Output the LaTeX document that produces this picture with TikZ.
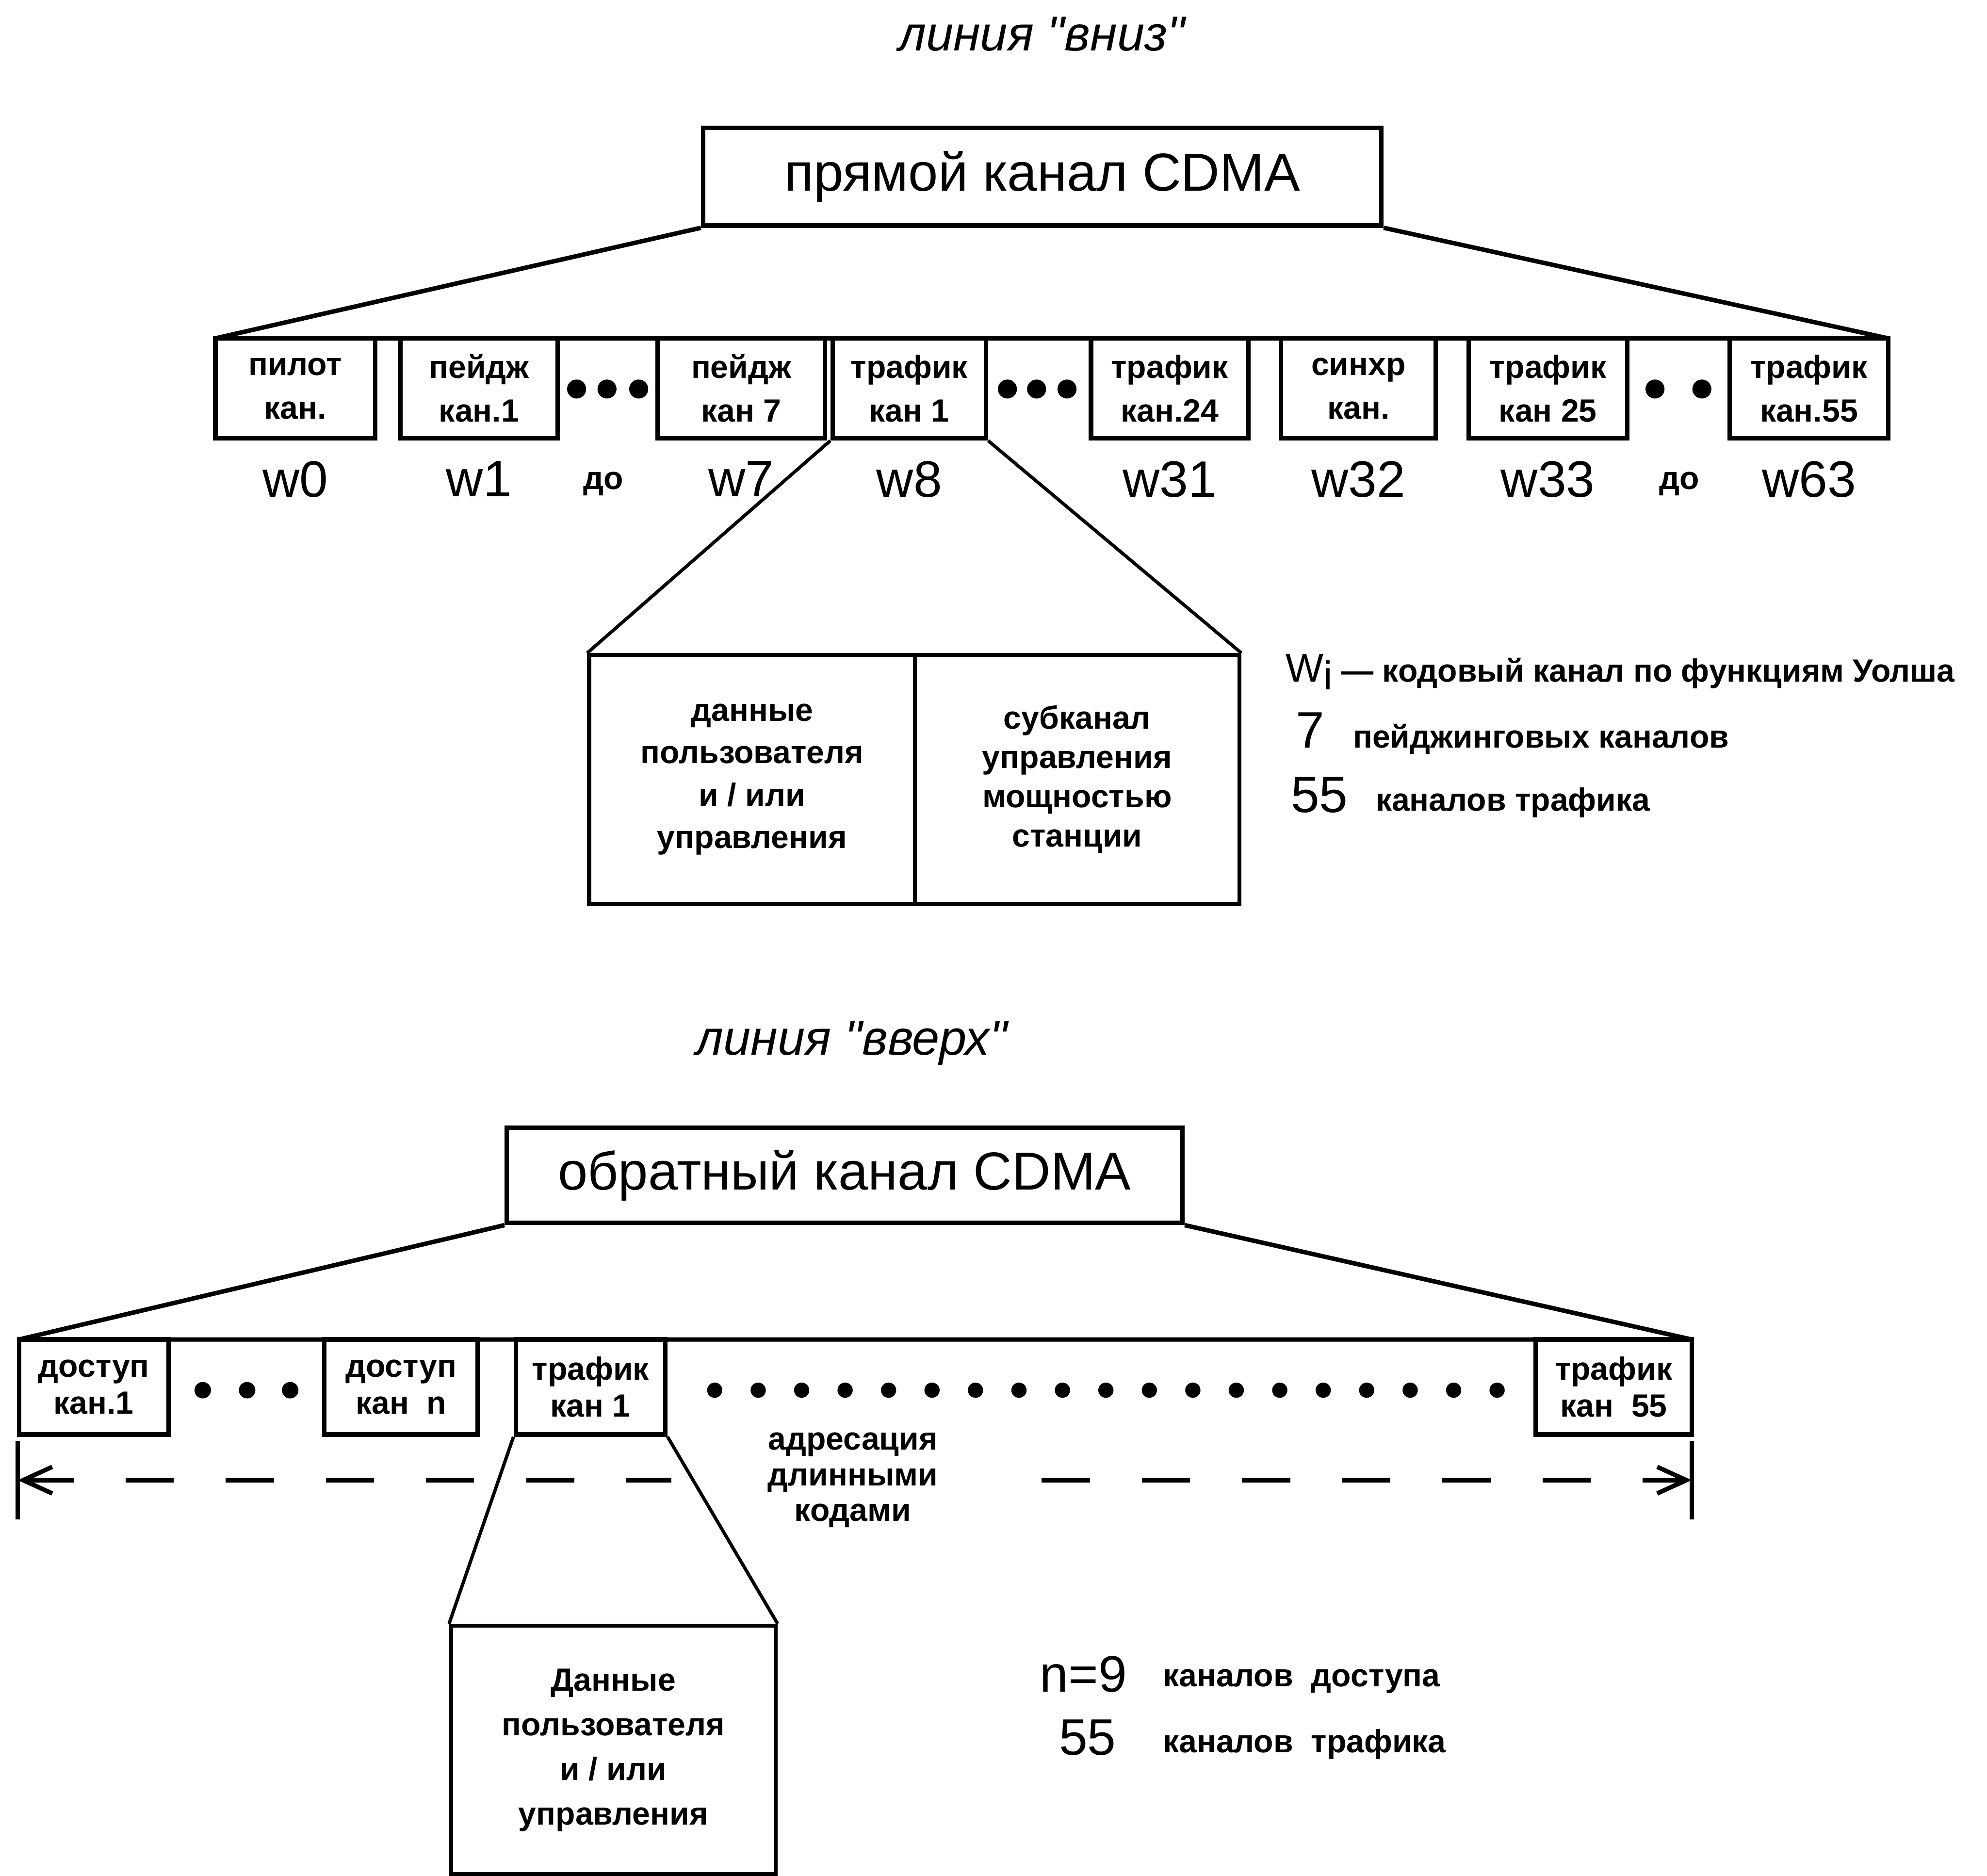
\documentclass[tikz,border=0pt]{standalone}
\usepackage{fontspec}
\setmainfont{Liberation Sans}
\usetikzlibrary{arrows.meta, positioning}

\begin{document}
\begin{tikzpicture}[x=0.01cm, y=-0.01cm, font=\bfseries\fontsize{7.2}{9.8}\selectfont,
  ttl/.style={font=\itshape\fontsize{11}{13}\selectfont\addfontfeature{Ligatures=TeXOff}},
  head/.style={draw, line width=1pt, inner sep=0pt, minimum height=0.77cm, font=\mdseries\fontsize{12}{14}\selectfont},
  ch/.style={draw, line width=1pt, inner sep=0pt, minimum height=0.79cm, align=center, minimum width=#1},
  chb/.style={ch=#1, minimum height=0.75cm, font=\bfseries\fontsize{7.2}{8.3}\selectfont},
  sub/.style={draw, line width=0.9pt, inner sep=0pt, minimum height=1.96cm, align=center, minimum width=#1},
  wl/.style={inner sep=1pt, font=\mdseries\fontsize{11.5}{13}\selectfont},
  big/.style={anchor=base west, inner sep=0pt, font=\mdseries\fontsize{11.5}{13}\selectfont},
  lg/.style={anchor=base west, inner sep=0pt},
  ln/.style={line width=1pt, line join=round},
  thn/.style={line width=0.75pt},
  adr/.style={line width=1pt, dash pattern=on 3.8mm off 4.1mm},
  barb/.tip={Straight Barb[length=2.3mm, width=2.1mm]}]
\useasboundingbox (0,0) rectangle (1568,1480);

\node[ttl] (tdown) at (822,27) {линия "вниз"};
\node[head, minimum width=5.35cm] (fwd) at (822.5,139.5) {прямой канал CDMA};
\coordinate (fl) at (170,267);
\coordinate (fr) at (1490,267);
\draw[ln] (fwd.south west) -- (fl) -- (fr) -- (fwd.south east);

\node[ch=1.26cm] (p0) at (233,306.5) {пилот\\кан.};
\node[ch=1.24cm] (p1) at (378,306.5) {пейдж\\кан.1};
\node[ch=1.32cm] (p7) at (585,306.5) {пейдж\\кан 7};
\node[ch=1.21cm] (t1) at (717.5,306.5) {трафик\\кан 1};
\node[ch=1.24cm] (t24) at (923,306.5) {трафик\\кан.24};
\node[ch=1.22cm] (sy) at (1072,306.5) {синхр\\кан.};
\node[ch=1.25cm] (t25) at (1221.5,306.5) {трафик\\кан 25};
\node[ch=1.25cm] (t55) at (1427.5,306.5) {трафик\\кан.55};
\foreach \x in {455,479,504,795,818,842,1306,1343}
  \fill (\x,307) circle (0.75mm);

\node[wl, below=0.12cm of p0] (w0) {w0};
\node[wl, below=0.12cm of p1] (w1) {w1};
\node[wl, below=0.12cm of p7] (w7) {w7};
\node[wl, below=0.12cm of t1] (w8) {w8};
\node[wl, below=0.12cm of t24] (w31) {w31};
\node[wl, below=0.12cm of sy] (w32) {w32};
\node[wl, below=0.12cm of t25] (w33) {w33};
\node[wl, below=0.12cm of t55] (w63) {w63};
\node[anchor=base] (do1) at (476,386) {до};
\node[anchor=base] (do2) at (1325,386) {до};

\node[sub=2.57cm, font=\bfseries\fontsize{7.2}{9.5}\selectfont] (ud) at (593.5,615) {данные\\пользователя\\и / или\\управления};
\node[sub=2.56cm, font=\bfseries\fontsize{7.2}{8.8}\selectfont] (pc) at (850,615) {субканал\\управления\\мощностью\\станции};
\draw[thn] (t1.south west) -- (ud.north west);
\draw[thn] (t1.south east) -- (pc.north east);

\node[lg] (lw) at (1014,538) {{\mdseries\fontsize{9}{10}\selectfont W\raisebox{-0.6mm}{i}} — кодовый канал по функциям Уолша};
\node[big] (n7) at (1022,590) {7};
\node[lg] (lpg) at (1067,590) {пейджинговых каналов};
\node[big] (n55a) at (1018,641) {55};
\node[lg] (ltr) at (1085,640) {каналов трафика};

\node[ttl] (tup) at (672,823) {линия "вверх"};
\node[head, minimum width=5.33cm, minimum height=0.75cm] (rev) at (666.5,927.5) {обратный канал CDMA};
\coordinate (rl) at (15,1057);
\coordinate (rr) at (1335,1057);
\draw[ln] (rev.south west) -- (rl) -- (rr) -- (rev.south east);

\node[chb=1.18cm] (a1) at (74,1094.5) {доступ\\кан.1};
\node[chb=1.21cm] (an) at (316.5,1094.5) {доступ\\кан \ n};
\node[chb=1.18cm] (r1) at (466,1094.5) {трафик\\кан 1};
\node[chb=1.23cm] (r55) at (1273.5,1094.5) {трафик\\кан \ 55};
\foreach \x in {160,195,229}
  \fill (\x,1097) circle (0.65mm);
\foreach \i in {0,...,18}
  \fill ({564+34.3*\i},1097) circle (0.6mm);

\coordinate (lb1) at (14,1137);
\coordinate (lb2) at (14,1199);
\coordinate (lm) at (14,1168);
\coordinate (gl) at (530,1168);
\coordinate (gr) at (822,1168);
\coordinate (rm) at (1335,1168);
\coordinate (rb1) at (1335,1137);
\coordinate (rb2) at (1335,1199);
\draw[ln] (lb1) -- (lb2);
\draw[ln] (rb1) -- (rb2);
\draw[adr, {barb}-] (lm) -- (gl);
\draw[adr, -{barb}] (gr) -- (rm);
\node[align=center, font=\bfseries\fontsize{7.2}{8}\selectfont] (adr) at (673,1168) {адресация\\длинными\\кодами};

\node[sub=2.56cm, font=\bfseries\fontsize{7.2}{10}\selectfont] (rd) at (484,1381) {Данные\\пользователя\\и / или\\управления};
\draw[thn] (r1.south west) -- (rd.north west);
\draw[thn] (r1.south east) -- (rd.north east);

\node[big] (n9) at (820,1335) {n=9};
\node[lg] (lac) at (917,1331) {каналов \ доступа};
\node[big] (n55b) at (835,1385) {55};
\node[lg] (ltr2) at (917,1383) {каналов \ трафика};
\end{tikzpicture}
\end{document}
